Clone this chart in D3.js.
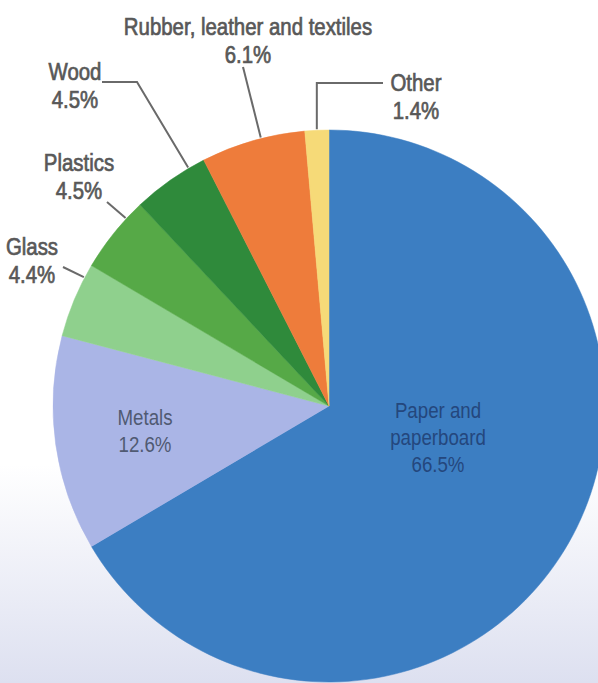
<!DOCTYPE html>
<html>
<head>
<meta charset="utf-8">
<script src="https://cdn.jsdelivr.net/npm/d3@7"></script>
<style>
  html, body { margin: 0; padding: 0; background: #fff; }
  svg { display: block; }
</style>
</head>
<body>
<div id="chart"></div>
<script>
// ---- data ----
const categories = ["Paper and paperboard", "Metals", "Glass", "Plastics", "Wood", "Rubber, leather and textiles", "Other"];
const labelLines = [["Paper and", "paperboard"], ["Metals"], ["Glass"], ["Plastics"], ["Wood"], ["Rubber, leather and textiles"], ["Other"]];
const values = [66.5, 12.6, 4.4, 4.5, 4.5, 6.1, 1.4];
const colors = ["#3c7ec2", "#aab5e6", "#8fd08d", "#56a947", "#2f8a3b", "#ee7c3b", "#f6da78"];

// ---- layout ----
const W = 598, H = 683;
const cx = 329, cy = 406, R = 276;

const svg = d3.select("#chart").append("svg").attr("width", W).attr("height", H);

const defs = svg.append("defs");
const bg = defs.append("linearGradient").attr("id", "bg").attr("x1", 0).attr("y1", 0).attr("x2", 0).attr("y2", 1);
bg.append("stop").attr("offset", "0.68").attr("stop-color", "#ffffff");
bg.append("stop").attr("offset", "1").attr("stop-color", "#dde0f0");
svg.append("rect").attr("width", W).attr("height", H).attr("fill", "url(#bg)");

const data = categories.map((c, i) => ({ name: c, value: values[i], color: colors[i], lines: labelLines[i] }));
const pie = d3.pie().sort(null).value(d => d.value).startAngle(0).endAngle(2 * Math.PI);
const arcs = pie(data);
const arc = d3.arc().innerRadius(0).outerRadius(R);

const g = svg.append("g").attr("transform", `translate(${cx},${cy})`);
g.selectAll("path").data(arcs).enter().append("path")
  .attr("d", arc)
  .attr("fill", d => d.data.color)
  .attr("stroke", d => d.data.color)
  .attr("stroke-width", 0.5);

// label layout: text position (center x, first line center y), leader start / elbow, fraction within slice
const layout = {
  "Wood": { x: 75, y: 72, pts: [[102, 82], [137, 82]], f: 0.78 },
  "Plastics": { x: 79, y: 163, pts: [[107, 202]], f: 0.75 },
  "Glass": { x: 32, y: 247, pts: [[63, 267]], f: 0.82 },
  "Rubber, leather and textiles": { x: 248, y: 27, pts: [[243, 67]], f: 0.58 },
  "Other": { x: 416, y: 83, pts: [[383, 83], [null, 83]], f: 0.5 },
  "Metals": { x: 145, y: 417, inside: true },
  "Paper and paperboard": { x: 438, y: 410, inside: true }
};

const font = "'Liberation Sans', Arial, sans-serif";
const squeeze = 0.85;

arcs.forEach(a => {
  const L = layout[a.data.name];
  const lines = a.data.lines.concat([d3.format(".1f")(a.data.value) + "%"]);
  const inside = !!L.inside;
  const fill = a.data.name === "Paper and paperboard" ? "#24477d" : (a.data.name === "Metals" ? "#505a72" : "#585858");
  const size = inside ? 22 : 24;
  const lh = inside ? 27 : 28;
  const t = svg.append("text")
    .attr("transform", `translate(${L.x},${L.y}) scale(${squeeze},1)`)
    .attr("text-anchor", "middle")
    .attr("font-family", font)
    .attr("font-size", size)
    .attr("fill", fill)
    .attr("stroke", inside ? "none" : fill)
    .attr("stroke-width", 0.7);
  lines.forEach((ln, i) => {
    t.append("tspan").attr("x", 0).attr("y", i * lh).attr("dy", "0.35em").text(ln);
  });
  if (!inside) {
    const ang = a.startAngle + L.f * (a.endAngle - a.startAngle);
    const ex = cx + (R + 1) * Math.sin(ang);
    const ey = cy - (R + 1) * Math.cos(ang);
    const pts = L.pts.map(p => [p[0] === null ? ex : p[0], p[1]]);
    pts.push([ex, ey]);
    svg.append("path")
      .attr("d", d3.line()(pts))
      .attr("fill", "none")
      .attr("stroke", "#6a6a6a")
      .attr("stroke-width", 2);
  }
});
</script>
</body>
</html>
